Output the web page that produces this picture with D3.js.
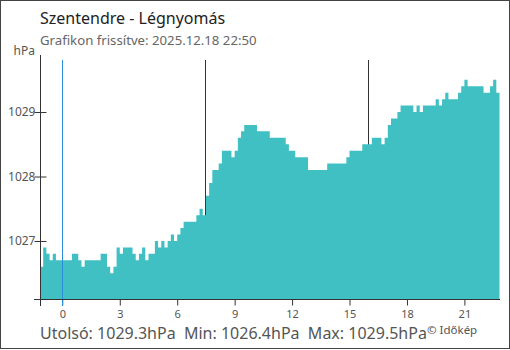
<!DOCTYPE html>
<html>
<head>
<meta charset="utf-8">
<script src="https://cdn.jsdelivr.net/npm/d3@7"></script>
<style>
  body { margin: 0; background: #fff; }
  text { font-family: "Noto Sans", sans-serif; }
</style>
</head>
<body>
<div id="chart"></div>
<script>
// chart data
const title = "Szentendre - Légnyomás";
const updated = "Grafikon frissítve: 2025.12.18 22:50";
const startHour = -70 / 60;   // first bar: 22:50 on the previous day
const stepHours = 10 / 60;    // one bar every 10 minutes
const pressure = [
  1026.6, 1026.9, 1026.8, 1026.7, 1026.8, 1026.7, 1026.7, 1026.7, 1026.7, 1026.7,
  1026.8, 1026.8, 1026.7, 1026.6, 1026.7, 1026.7, 1026.7, 1026.7, 1026.7, 1026.8,
  1026.8, 1026.6, 1026.5, 1026.6, 1026.9, 1026.8, 1026.9, 1026.9, 1026.9, 1026.8,
  1026.7, 1026.8, 1026.9, 1026.7, 1026.8, 1026.8, 1027.0, 1026.9, 1027.0, 1026.9,
  1027.0, 1027.1, 1027.0, 1027.1, 1027.2, 1027.3, 1027.3, 1027.3, 1027.3, 1027.4,
  1027.5, 1027.4, 1027.7, 1027.9, 1028.1, 1028.1, 1028.2, 1028.4, 1028.4, 1028.4,
  1028.3, 1028.4, 1028.6, 1028.7, 1028.8, 1028.8, 1028.8, 1028.8, 1028.7, 1028.7,
  1028.7, 1028.7, 1028.6, 1028.6, 1028.6, 1028.6, 1028.6, 1028.5, 1028.4, 1028.4,
  1028.3, 1028.3, 1028.3, 1028.3, 1028.1, 1028.1, 1028.1, 1028.1, 1028.1, 1028.1,
  1028.2, 1028.2, 1028.2, 1028.2, 1028.2, 1028.2, 1028.3, 1028.4, 1028.4, 1028.4,
  1028.4, 1028.5, 1028.5, 1028.5, 1028.6, 1028.6, 1028.6, 1028.5, 1028.6, 1028.8,
  1028.9, 1028.9, 1029.0, 1029.1, 1029.1, 1029.1, 1029.1, 1029.0, 1029.1, 1029.0,
  1029.1, 1029.1, 1029.1, 1029.1, 1029.2, 1029.1, 1029.2, 1029.3, 1029.2, 1029.2,
  1029.2, 1029.3, 1029.4, 1029.5, 1029.4, 1029.4, 1029.4, 1029.4, 1029.4, 1029.3,
  1029.3, 1029.4, 1029.5, 1029.3
];
const yTicks = [1027, 1028, 1029];
const xTicks = [0, 3, 6, 9, 12, 15, 18, 21];
const sunrise = 7 + 26 / 60;
const sunset = 15 + 57 / 60;
const lastValue = 1029.3, minValue = 1026.4, maxValue = 1029.5;

const width = 510, height = 350;

const svg = d3.select("#chart").append("svg")
    .attr("width", width)
    .attr("height", height);

// frame round the whole picture
svg.append("rect")
    .attr("x", 0.5).attr("y", 0.5)
    .attr("width", width - 1).attr("height", height - 2)
    .attr("fill", "none")
    .attr("stroke", "#444");

const x = d3.scaleLinear()
    .domain([startHour, startHour + pressure.length * stepHours])
    .range([40, 499.5]);

const y = d3.scaleLinear()
    .domain([1026.1, 1029.9])
    .range([299, 54]);

// sunrise / sunset lines, behind the bars
svg.selectAll(".sun")
  .data([sunrise, sunset])
  .join("line")
    .attr("class", "sun")
    .attr("x1", d => Math.round(x(d)) + 0.5)
    .attr("x2", d => Math.round(x(d)) + 0.5)
    .attr("y1", 60)
    .attr("y2", y(1026.1))
    .attr("stroke", "#333")
    .attr("stroke-width", 1);

// bars, as one stepped shape so there are no seams between them
const barData = pressure.map((v, i) => ({ t: startHour + i * stepHours, v: v }));
barData.push({ t: startHour + pressure.length * stepHours, v: pressure[pressure.length - 1] });

svg.append("path")
    .datum(barData)
    .attr("fill", "#40c0c3")
    .attr("d", d3.area()
        .curve(d3.curveStepAfter)
        .x(d => x(d.t))
        .y0(y(1026.1))
        .y1(d => y(d.v)));

// midnight line
svg.append("line")
    .attr("x1", Math.round(x(0)) + 0.5)
    .attr("x2", Math.round(x(0)) + 0.5)
    .attr("y1", 60)
    .attr("y2", 306)
    .attr("stroke", "#2a8fd8")
    .attr("stroke-width", 1);

// y axis
const yAxis = svg.append("g")
    .attr("transform", "translate(40.5,0)")
    .call(d3.axisLeft(y).tickValues(yTicks).tickFormat(d3.format("d"))
        .tickSize(6).tickSizeOuter(0).tickPadding(6));
yAxis.select(".domain").remove();
yAxis.selectAll(".tick line").attr("x2", 6).attr("x1", -6).attr("stroke", "#333");
yAxis.selectAll(".tick text")
    .attr("x", -5)
    .attr("font-size", 12)
    .attr("fill", "#555")
    .style("font-family", "'Noto Sans', sans-serif");
yAxis.append("line")
    .attr("y1", 55).attr("y2", 306)
    .attr("stroke", "#333");

// x axis
const xAxis = svg.append("g")
    .attr("transform", "translate(0,299.5)")
    .call(d3.axisBottom(x).tickValues(xTicks).tickSize(6).tickSizeOuter(0).tickPadding(5));
xAxis.select(".domain").remove();
xAxis.append("line")
    .attr("x1", 34).attr("x2", 500)
    .attr("stroke", "#333");
xAxis.selectAll(".tick line")
    .attr("stroke", d => d === 0 ? "#2a8fd8" : "#333");
xAxis.selectAll(".tick text")
    .attr("font-size", 11)
    .attr("fill", "#555")
    .style("font-family", "'Noto Sans', sans-serif");

// unit
svg.append("text")
    .attr("x", 35).attr("y", 55)
    .attr("text-anchor", "end")
    .attr("font-size", 12)
    .attr("fill", "#555")
    .text("hPa");

// titles
svg.append("text")
    .attr("x", 40).attr("y", 24)
    .attr("font-size", 16)
    .attr("fill", "#222")
    .text(title);

svg.append("text")
    .attr("x", 40).attr("y", 45)
    .attr("font-size", 13.2)
    .attr("fill", "#666")
    .text(updated);

// summary line
svg.append("text")
    .attr("x", 40).attr("y", 339)
    .attr("font-size", 16)
    .attr("fill", "#555")
    .style("white-space", "pre")
    .text("Utolsó: " + lastValue.toFixed(1) + "hPa  Min: " + minValue.toFixed(1) + "hPa  Max: " + maxValue.toFixed(1) + "hPa");

svg.append("text")
    .attr("x", 427).attr("y", 334)
    .attr("font-size", 11.5)
    .attr("fill", "#555")
    .text("© Időkép");
</script>
</body>
</html>
